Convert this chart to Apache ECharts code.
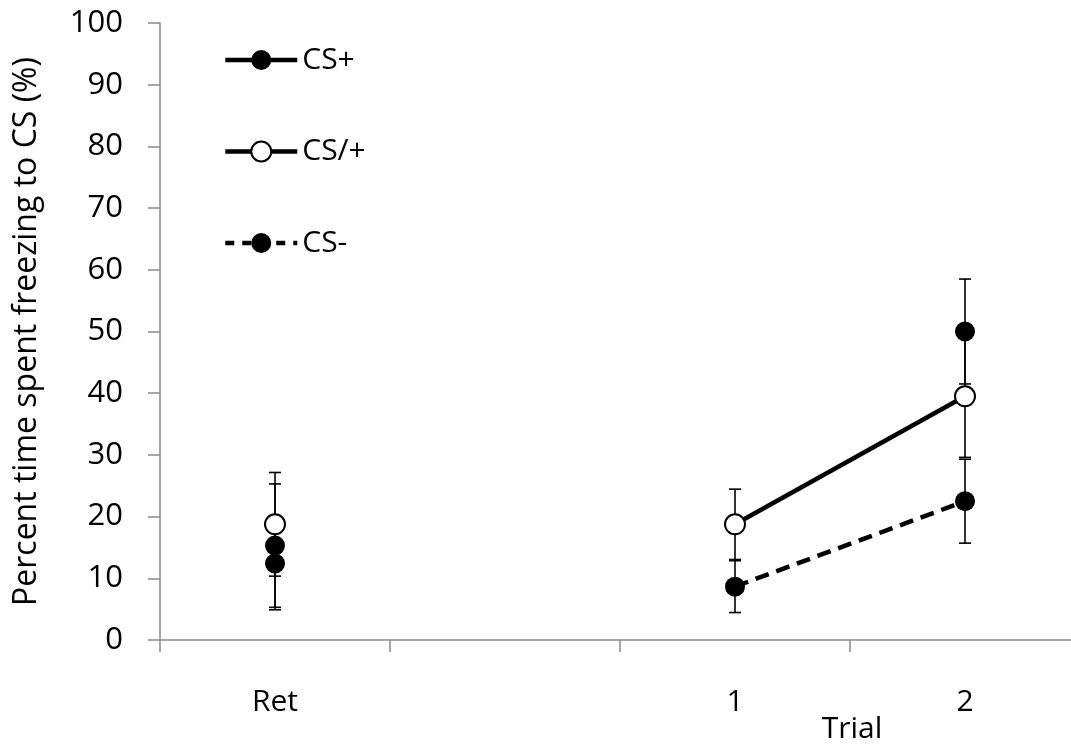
<!DOCTYPE html>
<html>
<head>
<meta charset="utf-8">
<script src="https://cdn.jsdelivr.net/npm/echarts@6/dist/echarts.min.js"></script>
<style>
html,body{margin:0;padding:0;background:#fff;}
#main{width:1071px;height:746px;}
</style>
</head>
<body>
<div id="main"></div>
<script>
var categories=['Ret','','1','2'];
var csPlus=[15.3,null,null,50];
var csPlusErr=[10,null,null,8.5];
var csSlash=[18.75,null,18.75,39.5];
var csSlashErr=[8.4,null,5.7,9.9];
var csMinus=[12.4,null,8.65,22.5];
var csMinusErr=[7.5,null,4.2,6.8];

var myChart=echarts.init(document.getElementById('main'));
var font='"Open Sans", "Liberation Sans", sans-serif';

function errData(vals,errs){
  var out=[];
  for(var i=0;i<vals.length;i++){
    if(vals[i]!=null) out.push([i,vals[i]-errs[i],vals[i]+errs[i]]);
  }
  return out;
}
// error bars: vertical line with small caps
function errBar(name,vals,errs){
  return {
    name:name+'_err',type:'custom',z:1,silent:true,
    data:errData(vals,errs),
    renderItem:function(params,api){
      var lo=api.coord([api.value(0),api.value(1)]);
      var hi=api.coord([api.value(0),api.value(2)]);
      var w=6;
      var st={stroke:'#000',lineWidth:1.6};
      return {type:'group',children:[
        {type:'line',shape:{x1:lo[0],y1:lo[1],x2:hi[0],y2:hi[1]},style:st},
        {type:'line',shape:{x1:lo[0]-w,y1:lo[1],x2:lo[0]+w,y2:lo[1]},style:st},
        {type:'line',shape:{x1:hi[0]-w,y1:hi[1],x2:hi[0]+w,y2:hi[1]},style:st}
      ]};
    }
  };
}

var option={
  animation:false,
  grid:{left:160,top:23,width:920,bottom:106,outerBoundsMode:'none'},   // axis runs past the right edge
  legend:{
    data:[
      {name:'CS+',lineStyle:{width:4.5}},
      {name:'CS/+',lineStyle:{width:4.5}},
      {name:'CS-',lineStyle:{width:4.5,type:[9,8]}}
    ],
    orient:'vertical',left:218,top:40,
    itemWidth:72,itemHeight:25,itemGap:61.5,
    textStyle:{fontFamily:font,fontSize:30,color:'#000'}
  },
  graphic:[{type:'text',x:852,y:729,style:{text:'Trial',font:'30px '+font,fill:'#000',align:'center',verticalAlign:'middle'}}],
  xAxis:{
    type:'category',data:categories,boundaryGap:true,
    axisLine:{lineStyle:{color:'#898989',width:1.5}},
    axisTick:{show:true,length:12,lineStyle:{color:'#898989',width:1.5}},
    axisLabel:{fontFamily:font,fontSize:30,color:'#000',margin:47}
  },
  yAxis:{
    type:'value',min:0,max:100,interval:10,
    name:'Percent time spent freezing to CS (%)',nameLocation:'middle',nameGap:117,
    nameTextStyle:{fontFamily:font,fontSize:32,color:'#000'},
    axisLine:{show:true,lineStyle:{color:'#898989',width:1.5}},
    axisTick:{show:true,length:12,lineStyle:{color:'#898989',width:1.5}},
    axisLabel:{fontFamily:font,fontSize:31,color:'#000',margin:37},
    splitLine:{show:false}
  },
  series:[
    errBar('CS+',csPlus,csPlusErr),
    errBar('CS/+',csSlash,csSlashErr),
    errBar('CS-',csMinus,csMinusErr),
    {name:'CS+',type:'line',data:csPlus,z:3,symbol:'circle',symbolSize:20,
      itemStyle:{color:'#000'},lineStyle:{color:'#000',width:4.5}},
    {name:'CS-',type:'line',data:csMinus,z:3,symbol:'circle',symbolSize:20,
      itemStyle:{color:'#000'},lineStyle:{color:'#000',width:4.5,type:[14,8]}},
    {name:'CS/+',type:'line',data:csSlash,z:4,symbol:'circle',symbolSize:20,
      itemStyle:{color:'#fff',borderColor:'#000',borderWidth:2},lineStyle:{color:'#000',width:4.5}}
  ]
};
myChart.setOption(option);
</script>
</body>
</html>
